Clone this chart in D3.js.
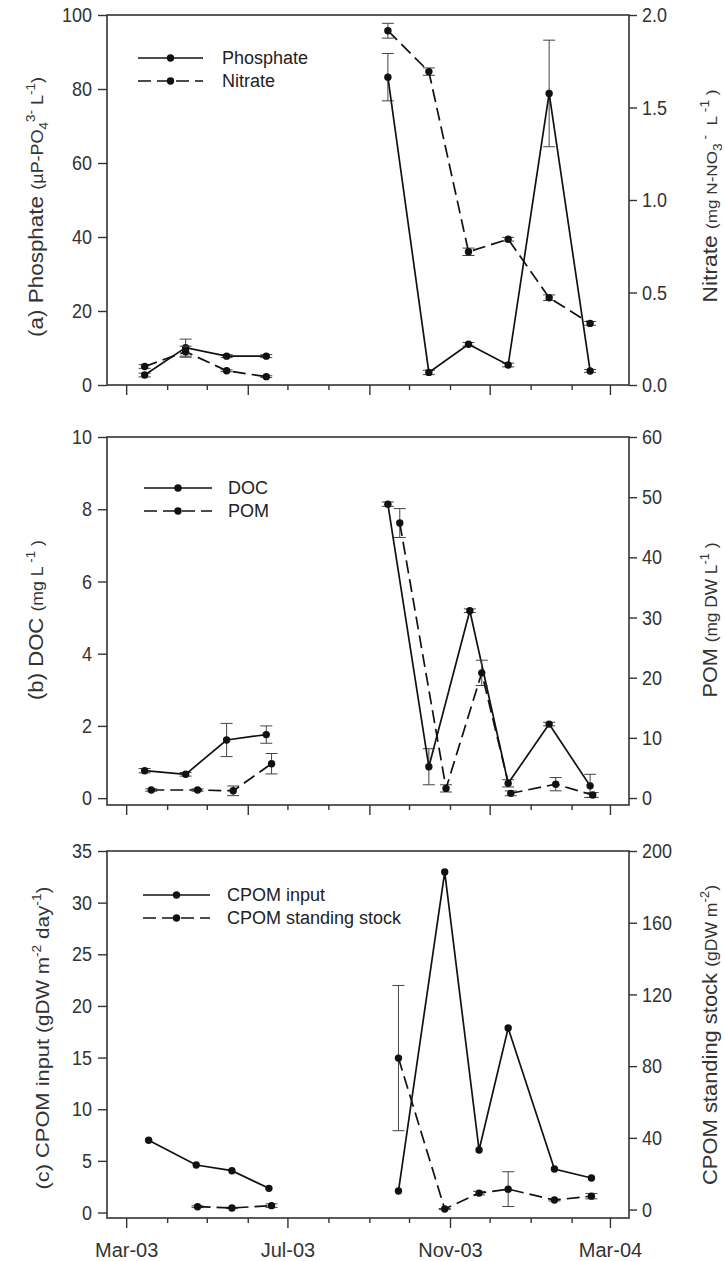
<!DOCTYPE html>
<meta charset="utf-8">
<head>
<script src="https://cdn.jsdelivr.net/npm/d3@7"></script>
<style>
  body { margin: 0; background: #fff; }
  svg { font-family: "Liberation Sans", Arial, sans-serif; background: #fff; }
  .series { fill: none; stroke: #111; stroke-width: 1.7px; }
  .dashed { stroke-dasharray: 13,6; }
  .err { stroke: #444; stroke-width: 1px; }
  .frame { stroke: #333; stroke-width: 1.6px; }
  .axis path { display: none; }
  .axis line { stroke: #333; stroke-width: 1.4px; }
  .axis text { font-size: 18px; fill: #333; }
  .title { fill: #333; }
  .legend text { font-size: 18px; fill: #222; }
</style>
</head>
<body>
<svg id="chart" width="725" height="1261"></svg>
<script>
// ---- data ----
// (a) phosphate / nitrate, sampled mid-month
var datesA = ["2003-03-15","2003-04-15","2003-05-16","2003-06-15","2003-09-15","2003-10-16","2003-11-15","2003-12-15","2004-01-15","2004-02-15"];
var phosphate    = [2.7, 10.1, 7.8, 7.8, 83.2, 3.4, 11.0, 5.4, 78.8, 3.8];
var phosphateErr = [0.5, 2.3, 0.4, 0.4, 6.4, 0.6, 0.5, 0.5, 14.4, 0.4];
var nitrate      = [0.10, 0.18, 0.077, 0.045, 1.915, 1.694, 0.72, 0.788, 0.472, 0.333];
var nitrateErr   = [0.01, 0.03, 0.005, 0.005, 0.04, 0.02, 0.02, 0.01, 0.015, 0.01];

// (b) DOC / POM
var datesDOC = ["2003-03-15","2003-04-15","2003-05-16","2003-06-15","2003-09-15","2003-10-16","2003-11-16","2003-12-15","2004-01-15","2004-02-15"];
var doc      = [0.76, 0.66, 1.61, 1.76, 8.14, 0.87, 5.19, 0.41, 2.05, 0.34];
var docErr   = [0.06, 0.05, 0.46, 0.24, 0.06, 0.5, 0.05, 0.1, 0.05, 0.32];
var datesPOM = ["2003-03-20","2003-04-24","2003-05-21","2003-06-19","2003-09-24","2003-10-29","2003-11-25","2003-12-17","2004-01-20","2004-02-17"];
var pom      = [1.33, 1.33, 1.2, 5.7, 45.7, 1.6, 20.8, 0.78, 2.3, 0.5];
var pomErr   = [0.2, 0.2, 0.8, 1.7, 2.4, 0.6, 2.1, 0.4, 1.1, 0.4];

// (c) CPOM input / standing stock
var datesInput = ["2003-03-18","2003-04-23","2003-05-20","2003-06-17","2003-09-23","2003-10-28","2003-11-23","2003-12-15","2004-01-19","2004-02-16"];
var cpomInput  = [7.0, 4.6, 4.05, 2.34, 2.08, 32.96, 6.05, 17.86, 4.21, 3.34];
var datesStock = ["2003-04-24","2003-05-20","2003-06-19","2003-09-23","2003-10-28","2003-11-23","2003-12-15","2004-01-19","2004-02-16"];
var cpomStock  = [1.6, 0.9, 2.2, 84.5, 0.3, 9.2, 11.4, 5.3, 7.5];
var stockErr   = [0.5, 0.3, 1.0, 40.5, 0.3, 1.0, 9.7, 0.5, 1.5];

var parse = d3.timeParse("%Y-%m-%d");
function rows(dates, vals, errs) {
  return dates.map(function(d, i) {
    return { date: parse(d), value: vals[i], err: errs ? errs[i] : 0 };
  });
}

var svg = d3.select("#chart");
var plotLeft = 107, plotRight = 629;

var x = d3.scaleTime()
    .domain([new Date(2003, 1, 14, 12), new Date(2004, 2, 15, 10)])
    .range([plotLeft, plotRight]);

var months = d3.timeMonth.range(new Date(2003, 2, 1), new Date(2004, 2, 2));

// title parts: [text, font size, dy]
var panels = [
  {
    top: 15, bottom: 385,
    leftDomain: [0, 100], leftTicks: d3.range(0, 101, 20), leftFmt: d3.format("d"),
    rightDomain: [0, 2], rightTicks: d3.range(0, 2.01, 0.5), rightFmt: d3.format(".1f"),
    majorEvery: 3, labels: false,
    series: [
      { data: rows(datesA, phosphate, phosphateErr), axis: "left", dashed: false, name: "Phosphate" },
      { data: rows(datesA, nitrate, nitrateErr), axis: "right", dashed: true, name: "Nitrate" }
    ],
    legend: { x1: 138, x2: 203, tx: 222, y: 58 },
    leftTitle: { x: 43, y: 207, len: 260, parts: [["(a) Phosphate ", 20, 0], ["(\u00B5P-PO", 16, 0], ["4", 12, 5], ["3-", 12, -13], [" L", 16, 8], ["-1", 12, -8], [")", 16, 8]] },
    rightTitle: { x: 717, y: 196, len: 213, parts: [["Nitrate ", 20, 0], ["(mg N-NO", 15, 0], ["3", 12, 5], [" -", 12, -13], ["  L", 15, 8], [" -1", 12, -8], [" )", 15, 8]] }
  },
  {
    top: 437, bottom: 805,
    leftDomain: [-0.19, 10], leftTicks: d3.range(0, 10.01, 2), leftFmt: d3.format("d"),
    rightDomain: [-1.16, 60], rightTicks: d3.range(0, 60.1, 10), rightFmt: d3.format("d"),
    majorEvery: 3, labels: false,
    series: [
      { data: rows(datesDOC, doc, docErr), axis: "left", dashed: false, name: "DOC" },
      { data: rows(datesPOM, pom, pomErr), axis: "right", dashed: true, name: "POM" }
    ],
    legend: { x1: 144, x2: 212, tx: 228, y: 488 },
    leftTitle: { x: 43, y: 620, len: 160, parts: [["(b) DOC ", 20, 0], ["(mg L", 16, 0], [" -1", 12, -8], [" )", 16, 8]] },
    rightTitle: { x: 717, y: 620, len: 155, parts: [["POM ", 20, 0], ["(mg DW L", 16, 0], ["-1", 12, -8], [" )", 16, 8]] }
  },
  {
    top: 851, bottom: 1218,
    leftDomain: [-0.53, 35], leftTicks: d3.range(0, 35.1, 5), leftFmt: d3.format("d"),
    rightDomain: [-4.7, 200], rightTicks: d3.range(0, 201, 40), rightFmt: d3.format("d"),
    majorEvery: 4, labels: true,
    series: [
      { data: rows(datesInput, cpomInput), axis: "left", dashed: false, name: "CPOM input" },
      { data: rows(datesStock, cpomStock, stockErr), axis: "right", dashed: true, name: "CPOM standing stock" }
    ],
    legend: { x1: 143, x2: 210, tx: 227, y: 895 },
    leftTitle: { x: 49, y: 1038, len: 303, parts: [["(c) CPOM input ", 19, 0], ["(gDW m", 18, 0], ["-2", 12, -8], [" day", 18, 8], ["-1", 12, -8], [")", 18, 8]] },
    rightTitle: { x: 717, y: 1035, len: 300, parts: [["CPOM standing stock ", 20, 0], ["(gDW m", 16, 0], ["-2", 12, -8], [")", 16, 8]] }
  }
];

// split a series where sampling stops (summer gap)
function segments(data) {
  var segs = [[]];
  data.forEach(function(d, i) {
    if (i > 0 && (d.date - data[i - 1].date) > 60 * 864e5) segs.push([]);
    segs[segs.length - 1].push(d);
  });
  return segs;
}

function drawTitle(g, t) {
  var text = g.append("text")
      .attr("class", "title")
      .attr("transform", "translate(" + t.x + "," + t.y + ") rotate(-90)")
      .attr("text-anchor", "middle")
      .attr("textLength", t.len)
      .attr("lengthAdjust", "spacingAndGlyphs")
      .style("white-space", "pre");
  t.parts.forEach(function(p) {
    text.append("tspan")
        .attr("font-size", p[1] + "px")
        .attr("dy", p[2])
        .text(p[0]);
  });
}

panels.forEach(function(p) {
  var g = svg.append("g");
  var yL = d3.scaleLinear().domain(p.leftDomain).range([p.bottom, p.top]);
  var yR = d3.scaleLinear().domain(p.rightDomain).range([p.bottom, p.top]);

  // x ticks: minor every month, major every few months
  g.append("g")
      .attr("class", "axis")
      .attr("transform", "translate(0," + p.bottom + ")")
      .call(d3.axisBottom(x).tickValues(months.filter(function(d, i) { return i % p.majorEvery; }))
        .tickSize(5).tickFormat(""));
  var major = g.append("g")
      .attr("class", "axis")
      .attr("transform", "translate(0," + p.bottom + ")")
      .call(d3.axisBottom(x).tickValues(months.filter(function(d, i) { return i % p.majorEvery === 0; }))
        .tickSize(10).tickPadding(15)
        .tickFormat(p.labels ? d3.timeFormat("%b-%y") : ""));
  major.selectAll("text").style("font-size", "20px");

  var la = g.append("g")
      .attr("class", "axis")
      .attr("transform", "translate(" + plotLeft + ",0)")
      .call(d3.axisLeft(yL).tickValues(p.leftTicks).tickFormat(p.leftFmt).tickSize(9).tickPadding(6));
  var ra = g.append("g")
      .attr("class", "axis")
      .attr("transform", "translate(" + plotRight + ",0)")
      .call(d3.axisRight(yR).tickValues(p.rightTicks).tickFormat(p.rightFmt).tickSize(8).tickPadding(5));
  // the printed figure is a little taller than wide
  la.selectAll("text").attr("transform", "scale(1,1.15)");
  ra.selectAll("text").attr("transform", "scale(1,1.15)");

  // frame
  g.append("rect")
      .attr("class", "frame")
      .attr("x", plotLeft).attr("y", p.top)
      .attr("width", plotRight - plotLeft).attr("height", p.bottom - p.top)
      .attr("fill", "none");

  p.series.forEach(function(s) {
    var y = s.axis === "left" ? yL : yR;
    var line = d3.line().x(function(d) { return x(d.date); }).y(function(d) { return y(d.value); });

    var eb = g.append("g").selectAll("g").data(s.data.filter(function(d) { return d.err > 0; }))
      .join("g").attr("class", "err");
    eb.append("line")
        .attr("x1", function(d) { return x(d.date); }).attr("x2", function(d) { return x(d.date); })
        .attr("y1", function(d) { return y(d.value - d.err); }).attr("y2", function(d) { return y(d.value + d.err); });
    [1, -1].forEach(function(sign) {
      eb.append("line")
          .attr("x1", function(d) { return x(d.date) - 6; }).attr("x2", function(d) { return x(d.date) + 6; })
          .attr("y1", function(d) { return y(d.value + sign * d.err); })
          .attr("y2", function(d) { return y(d.value + sign * d.err); });
    });

    g.selectAll(null).data(segments(s.data)).join("path")
        .attr("class", "series" + (s.dashed ? " dashed" : ""))
        .attr("d", line);

    g.append("g").selectAll("circle").data(s.data).join("circle")
        .attr("cx", function(d) { return x(d.date); })
        .attr("cy", function(d) { return y(d.value); })
        .attr("r", 3.7)
        .attr("fill", "#111");
  });

  // legend
  var lg = g.append("g").attr("class", "legend");
  p.series.forEach(function(s, i) {
    var ly = p.legend.y + i * 23;
    lg.append("line")
        .attr("class", "series" + (s.dashed ? " dashed" : ""))
        .attr("x1", p.legend.x1).attr("x2", p.legend.x2)
        .attr("y1", ly).attr("y2", ly);
    lg.append("circle")
        .attr("cx", (p.legend.x1 + p.legend.x2) / 2).attr("cy", ly)
        .attr("r", 3.7).attr("fill", "#111");
    lg.append("text")
        .attr("x", p.legend.tx).attr("y", ly)
        .attr("dy", "0.35em")
        .text(s.name);
  });

  drawTitle(g, p.leftTitle);
  drawTitle(g, p.rightTitle);
});
</script>
</body>
